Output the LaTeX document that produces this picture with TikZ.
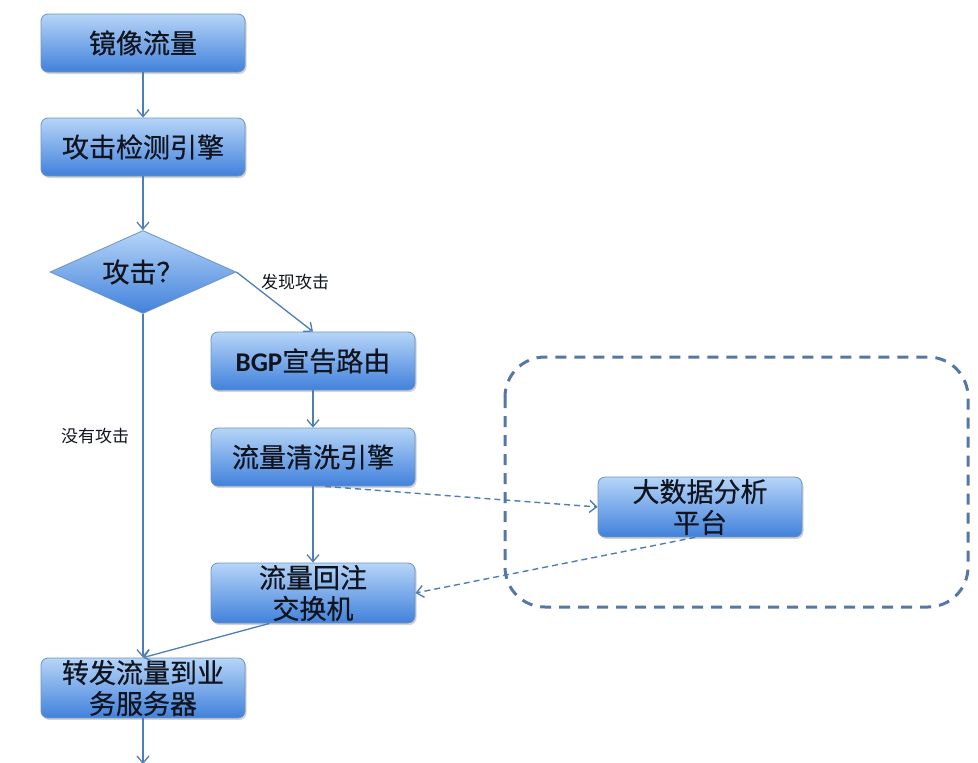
\documentclass[tikz,border=0pt]{standalone}
\usepackage{fontspec}
\setmainfont{Noto Sans CJK SC}
\newfontfamily\boxfont{Noto Sans CJK SC}[FakeBold=0.5]
\newfontfamily\latinbold{Carlito}
\usetikzlibrary{shapes.geometric,arrows.meta,shadows}
\definecolor{boxtop}{HTML}{B6D5F8}
\definecolor{boxbot}{HTML}{4181DB}
\definecolor{boxedge}{HTML}{6B93C6}
\definecolor{linec}{HTML}{4F7DB5}
\definecolor{dashc}{HTML}{5577A6}
\definecolor{txtc}{HTML}{10141E}
\tikzset{
  flowbox/.style={draw=boxedge, line width=0.8pt, rounded corners=7pt,
    top color=boxtop, bottom color=boxbot,
    drop shadow={opacity=0.35, shadow xshift=1.5pt, shadow yshift=-2pt},
    minimum width=204pt, minimum height=58pt, inner sep=2pt,
    align=center, text=txtc, font=\boxfont\fontsize{27}{31}\selectfont},
  decision/.style={diamond, draw=boxedge, line width=0.8pt,
    top color=boxtop, bottom color=boxbot, aspect=2.24,
    minimum width=186pt, minimum height=83pt, inner sep=0pt,
    text=txtc, font=\boxfont\fontsize{27}{31}\selectfont},
  flowarrow/.style={draw=linec, line width=1.3pt, -{Straight Barb[length=7pt,width=12pt]}},
  dasharrow/.style={draw=linec, line width=1.4pt, dash pattern=on 6pt off 4pt,
    -{Straight Barb[length=7pt,width=12pt]}},
  edgelabel/.style={font=\fontsize{17}{20}\selectfont, text=txtc, inner sep=1pt},
  groupbox/.style={draw=dashc, line width=3pt, dash pattern=on 11pt off 8pt, rounded corners=40pt}
}
\begin{document}
\begin{tikzpicture}[x=1pt,y=-1pt]
\useasboundingbox (0,0) rectangle (978,763);
\draw[groupbox] (505,357) rectangle (968,607);

\node[flowbox] (jingxiang) at (143,43) {镜像流量};
\node[flowbox] (jiance) at (143,147) {攻击检测引擎};
\node[decision] (gongji) at (143,272) {攻击？};
\node[flowbox] (bgp) at (313,361) {{\latinbold\bfseries BGP}宣告路由};
\node[flowbox] (qingxi) at (313,457) {流量清洗引擎};
\node[flowbox] (dashuju) at (700,507) {大数据分析\\平台};
\node[flowbox] (huizhu) at (313,593) {流量回注\\交换机};
\node[flowbox] (zhuanfa) at (143,688) {转发流量到业\\务服务器};
\coordinate (out) at (143,764);

\draw[flowarrow] (jingxiang) -- (jiance);
\draw[flowarrow] (jiance) -- (gongji);
\draw[flowarrow] (gongji.east) -- (bgp.north);
\draw[flowarrow] (gongji.south) -- (zhuanfa.north);
\draw[flowarrow] (bgp) -- (qingxi);
\draw[flowarrow] (qingxi) -- (huizhu);
\draw[dasharrow] (qingxi.-68) -- (dashuju.west);
\draw[dasharrow] (dashuju.-99) -- (huizhu.east);
\draw[flowarrow] (huizhu.215) -- (zhuanfa.north);
\draw[flowarrow] (zhuanfa) -- (out);

\node[edgelabel] (faxian) at (295,282) {发现攻击};
\node[edgelabel] (meiyou) at (95,436) {没有攻击};
\end{tikzpicture}
\end{document}
